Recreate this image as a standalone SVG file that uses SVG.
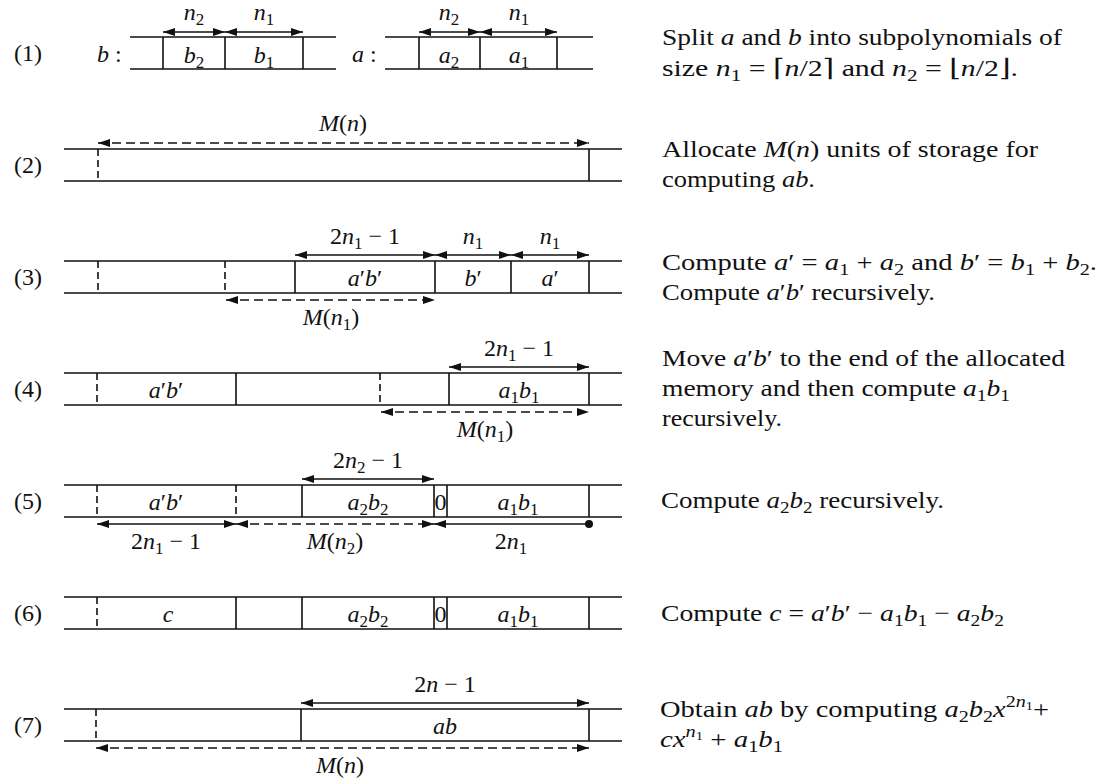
<svg xmlns="http://www.w3.org/2000/svg" width="1101" height="781" viewBox="0 0 1101 781" font-family="'Liberation Serif', 'DejaVu Serif', 'Noto Serif', serif">
<style>
.ln{stroke:#111;stroke-width:1.6;fill:none}
.dl{stroke:#111;stroke-width:1.6;stroke-dasharray:7 4;fill:none}
.ar{stroke:#111;stroke-width:1.6;fill:none;marker-start:url(#ah);marker-end:url(#ah)}
.da{stroke:#111;stroke-width:1.6;fill:none;stroke-dasharray:9 5;marker-start:url(#ah);marker-end:url(#ah)}
text{font-family:'Liberation Serif','Tinos','DejaVu Serif','Noto Serif',serif;font-size:24px;fill:#111}
.m{text-anchor:middle}
.i{font-style:italic}
.s{font-size:17px}
.ss{font-size:12px}
</style>
<defs>
<marker id="ah" viewBox="0 0 12 8" refX="12" refY="4" markerWidth="12" markerHeight="8" markerUnits="userSpaceOnUse" orient="auto-start-reverse">
<path d="M0,0 L12,4 L0,8 z" fill="#111"/>
</marker>
</defs>
<rect width="1101" height="781" fill="#fff"/>

<!-- Row 1 -->
<g id="row1">
<text class="m" x="28" y="61">(1)</text>
<text x="97" y="62"><tspan class="i">b</tspan> :</text>
<path class="ln" d="M130,37H336M130,69H336M163,37V69M225,37V69M303,37V69"/>
<text class="m" x="194" y="63"><tspan class="i">b</tspan><tspan class="s" dy="5">2</tspan></text>
<text class="m" x="264" y="63"><tspan class="i">b</tspan><tspan class="s" dy="5">1</tspan></text>
<text x="352" y="62"><tspan class="i">a</tspan> :</text>
<path class="ln" d="M385,37H593M385,69H593M419,37V69M480,37V69M557,37V69"/>
<text class="m" x="449" y="63"><tspan class="i">a</tspan><tspan class="s" dy="5">2</tspan></text>
<text class="m" x="519" y="63"><tspan class="i">a</tspan><tspan class="s" dy="5">1</tspan></text>
<text class="m" x="194" y="20"><tspan class="i">n</tspan><tspan class="s" dy="5">2</tspan></text>
<text class="m" x="264" y="20"><tspan class="i">n</tspan><tspan class="s" dy="5">1</tspan></text>
<text class="m" x="449" y="20"><tspan class="i">n</tspan><tspan class="s" dy="5">2</tspan></text>
<text class="m" x="519" y="20"><tspan class="i">n</tspan><tspan class="s" dy="5">1</tspan></text>
</g>

<!-- Row 2 -->
<g id="row2">
<text class="m" x="28" y="173">(2)</text>
<path class="ln" d="M64,149H622M64,181H622M589,149V181"/>
<path class="dl" d="M98,149V181"/>
<text class="m" x="343" y="131"><tspan class="i">M</tspan>(<tspan class="i">n</tspan>)</text>
</g>

<!-- Row 3 -->
<g id="row3">
<text class="m" x="28" y="285">(3)</text>
<path class="ln" d="M64,261H622M64,293H622M295,261V293M435,261V293M511,261V293M589,261V293"/>
<path class="dl" d="M98,261V293M225,261V293"/>
<text class="m" x="365" y="286"><tspan class="i">a</tspan>′<tspan class="i">b</tspan>′</text>
<text class="m" x="473" y="286"><tspan class="i">b</tspan>′</text>
<text class="m" x="550" y="286"><tspan class="i">a</tspan>′</text>
<text class="m" x="365" y="244">2<tspan class="i">n</tspan><tspan class="s" dy="5">1</tspan><tspan dy="-5"> − 1</tspan></text>
<text class="m" x="473" y="244"><tspan class="i">n</tspan><tspan class="s" dy="5">1</tspan></text>
<text class="m" x="550" y="244"><tspan class="i">n</tspan><tspan class="s" dy="5">1</tspan></text>
<text class="m" x="331" y="325"><tspan class="i">M</tspan>(<tspan class="i">n</tspan><tspan class="s" dy="5">1</tspan><tspan dy="-5">)</tspan></text>
</g>

<!-- Row 4 -->
<g id="row4">
<text class="m" x="28" y="397">(4)</text>
<path class="ln" d="M64,373H622M64,405H622M236,373V405M449,373V405M589,373V405"/>
<path class="dl" d="M97,373V405M380,373V405"/>
<text class="m" x="166" y="398"><tspan class="i">a</tspan>′<tspan class="i">b</tspan>′</text>
<text class="m" x="519" y="398"><tspan class="i">a</tspan><tspan class="s" dy="5">1</tspan><tspan class="i" dy="-5">b</tspan><tspan class="s" dy="5">1</tspan></text>
<text class="m" x="519" y="356">2<tspan class="i">n</tspan><tspan class="s" dy="5">1</tspan><tspan dy="-5"> − 1</tspan></text>
<text class="m" x="485" y="437"><tspan class="i">M</tspan>(<tspan class="i">n</tspan><tspan class="s" dy="5">1</tspan><tspan dy="-5">)</tspan></text>
</g>

<!-- Row 5 -->
<g id="row5">
<text class="m" x="28" y="509">(5)</text>
<path class="ln" d="M64,485H622M64,517H622M302,485V517M434,485V517M447,485V517M589,485V517"/>
<path class="dl" d="M97,485V517M236,485V517"/>
<text class="m" x="166" y="510"><tspan class="i">a</tspan>′<tspan class="i">b</tspan>′</text>
<text class="m" x="368" y="510"><tspan class="i">a</tspan><tspan class="s" dy="5">2</tspan><tspan class="i" dy="-5">b</tspan><tspan class="s" dy="5">2</tspan></text>
<text class="m" x="440.5" y="510">0</text>
<text class="m" x="518" y="510"><tspan class="i">a</tspan><tspan class="s" dy="5">1</tspan><tspan class="i" dy="-5">b</tspan><tspan class="s" dy="5">1</tspan></text>
<text class="m" x="368" y="468">2<tspan class="i">n</tspan><tspan class="s" dy="5">2</tspan><tspan dy="-5"> − 1</tspan></text>
<text class="m" x="166" y="549">2<tspan class="i">n</tspan><tspan class="s" dy="5">1</tspan><tspan dy="-5"> − 1</tspan></text>
<text class="m" x="335" y="549"><tspan class="i">M</tspan>(<tspan class="i">n</tspan><tspan class="s" dy="5">2</tspan><tspan dy="-5">)</tspan></text>
<text class="m" x="511" y="549">2<tspan class="i">n</tspan><tspan class="s" dy="5">1</tspan></text>
</g>

<!-- Row 6 -->
<g id="row6">
<text class="m" x="28" y="621">(6)</text>
<path class="ln" d="M64,597H622M64,629H622M236,597V629M302,597V629M434,597V629M447,597V629M589,597V629"/>
<path class="dl" d="M97,597V629"/>
<text class="m" x="168" y="622"><tspan class="i">c</tspan></text>
<text class="m" x="368" y="622"><tspan class="i">a</tspan><tspan class="s" dy="5">2</tspan><tspan class="i" dy="-5">b</tspan><tspan class="s" dy="5">2</tspan></text>
<text class="m" x="440.5" y="622">0</text>
<text class="m" x="518" y="622"><tspan class="i">a</tspan><tspan class="s" dy="5">1</tspan><tspan class="i" dy="-5">b</tspan><tspan class="s" dy="5">1</tspan></text>
</g>

<!-- Row 7 -->
<g id="row7">
<text class="m" x="28" y="733">(7)</text>
<path class="ln" d="M64,709H622M64,741H622M301,709V741M589,709V741"/>
<path class="dl" d="M96,709V741"/>
<text class="m" x="445" y="734"><tspan class="i">ab</tspan></text>
<text class="m" x="445" y="692">2<tspan class="i">n</tspan> − 1</text>
<text class="m" x="340" y="773"><tspan class="i">M</tspan>(<tspan class="i">n</tspan>)</text>
</g>

<!-- Dimension arrows -->
<g id="connectors">
<line class="ar" x1="163" y1="32" x2="225" y2="32"/>
<line class="ar" x1="225" y1="32" x2="303" y2="32"/>
<line class="ar" x1="419" y1="32" x2="480" y2="32"/>
<line class="ar" x1="480" y1="32" x2="557" y2="32"/>
<line class="da" x1="98" y1="143" x2="589" y2="143"/>
<line class="ar" x1="295" y1="255" x2="435" y2="255"/>
<line class="ar" x1="435" y1="255" x2="511" y2="255"/>
<line class="ar" x1="511" y1="255" x2="589" y2="255"/>
<line class="da" x1="226" y1="300" x2="435" y2="300"/>
<line class="ar" x1="449" y1="367" x2="589" y2="367"/>
<line class="da" x1="381" y1="412" x2="589" y2="412"/>
<line class="ar" x1="302" y1="479" x2="434" y2="479"/>
<line class="ar" x1="97" y1="524" x2="236" y2="524"/>
<line class="da" x1="236" y1="524" x2="434" y2="524"/>
<line class="ln" x1="434" y1="524" x2="589" y2="524" marker-start="url(#ah)"/>
<circle cx="589" cy="524" r="4" fill="#111"/>
<line class="ar" x1="301" y1="703" x2="589" y2="703"/>
<line class="da" x1="96" y1="748" x2="589" y2="748"/>
</g>

<!-- Descriptions -->
<g id="descriptions">
<text x="662" y="45" textLength="400" lengthAdjust="spacingAndGlyphs">Split <tspan class="i">a</tspan> and <tspan class="i">b</tspan> into subpolynomials of</text>
<text x="662" y="76" textLength="356" lengthAdjust="spacingAndGlyphs">size <tspan class="i">n</tspan><tspan class="s" dy="5">1</tspan><tspan dy="-5"> = ⌈</tspan><tspan class="i">n</tspan>/2⌉ and <tspan class="i">n</tspan><tspan class="s" dy="5">2</tspan><tspan dy="-5"> = ⌊</tspan><tspan class="i">n</tspan>/2⌋.</text>
<text x="662" y="157" textLength="376" lengthAdjust="spacingAndGlyphs">Allocate <tspan class="i">M</tspan>(<tspan class="i">n</tspan>) units of storage for</text>
<text x="662" y="187" textLength="153" lengthAdjust="spacingAndGlyphs">computing <tspan class="i">ab</tspan>.</text>
<text x="662" y="270" textLength="435" lengthAdjust="spacingAndGlyphs">Compute <tspan class="i">a</tspan>′ = <tspan class="i">a</tspan><tspan class="s" dy="5">1</tspan><tspan dy="-5"> + </tspan><tspan class="i">a</tspan><tspan class="s" dy="5">2</tspan><tspan dy="-5"> and </tspan><tspan class="i">b</tspan>′ = <tspan class="i">b</tspan><tspan class="s" dy="5">1</tspan><tspan dy="-5"> + </tspan><tspan class="i">b</tspan><tspan class="s" dy="5">2</tspan><tspan dy="-5">.</tspan></text>
<text x="662" y="300" textLength="273" lengthAdjust="spacingAndGlyphs">Compute <tspan class="i">a</tspan>′<tspan class="i">b</tspan>′ recursively.</text>
<text x="662" y="366" textLength="403" lengthAdjust="spacingAndGlyphs">Move <tspan class="i">a</tspan>′<tspan class="i">b</tspan>′ to the end of the allocated</text>
<text x="662" y="396" textLength="348" lengthAdjust="spacingAndGlyphs">memory and then compute <tspan class="i">a</tspan><tspan class="s" dy="5">1</tspan><tspan class="i" dy="-5">b</tspan><tspan class="s" dy="5">1</tspan></text>
<text x="662" y="426" textLength="120" lengthAdjust="spacingAndGlyphs">recursively.</text>
<text x="661" y="508" textLength="283" lengthAdjust="spacingAndGlyphs">Compute <tspan class="i">a</tspan><tspan class="s" dy="5">2</tspan><tspan class="i" dy="-5">b</tspan><tspan class="s" dy="5">2</tspan><tspan dy="-5"> recursively.</tspan></text>
<text x="661" y="621" textLength="343" lengthAdjust="spacingAndGlyphs">Compute <tspan class="i">c</tspan> = <tspan class="i">a</tspan>′<tspan class="i">b</tspan>′ − <tspan class="i">a</tspan><tspan class="s" dy="5">1</tspan><tspan class="i" dy="-5">b</tspan><tspan class="s" dy="5">1</tspan><tspan dy="-5"> − </tspan><tspan class="i">a</tspan><tspan class="s" dy="5">2</tspan><tspan class="i" dy="-5">b</tspan><tspan class="s" dy="5">2</tspan></text>
<text x="660" y="717" textLength="389" lengthAdjust="spacingAndGlyphs">Obtain <tspan class="i">ab</tspan> by computing <tspan class="i">a</tspan><tspan class="s" dy="5">2</tspan><tspan class="i" dy="-5">b</tspan><tspan class="s" dy="5">2</tspan><tspan class="i" dy="-5">x</tspan><tspan class="s" dy="-10">2</tspan><tspan class="s i">n</tspan><tspan class="ss" dy="3">1</tspan><tspan dy="7">+</tspan></text>
<text x="660" y="747" textLength="123" lengthAdjust="spacingAndGlyphs"><tspan class="i">cx</tspan><tspan class="s i" dy="-10">n</tspan><tspan class="ss" dy="3">1</tspan><tspan dy="7"> + </tspan><tspan class="i">a</tspan><tspan class="s" dy="5">1</tspan><tspan class="i" dy="-5">b</tspan><tspan class="s" dy="5">1</tspan></text>
</g>
</svg>
